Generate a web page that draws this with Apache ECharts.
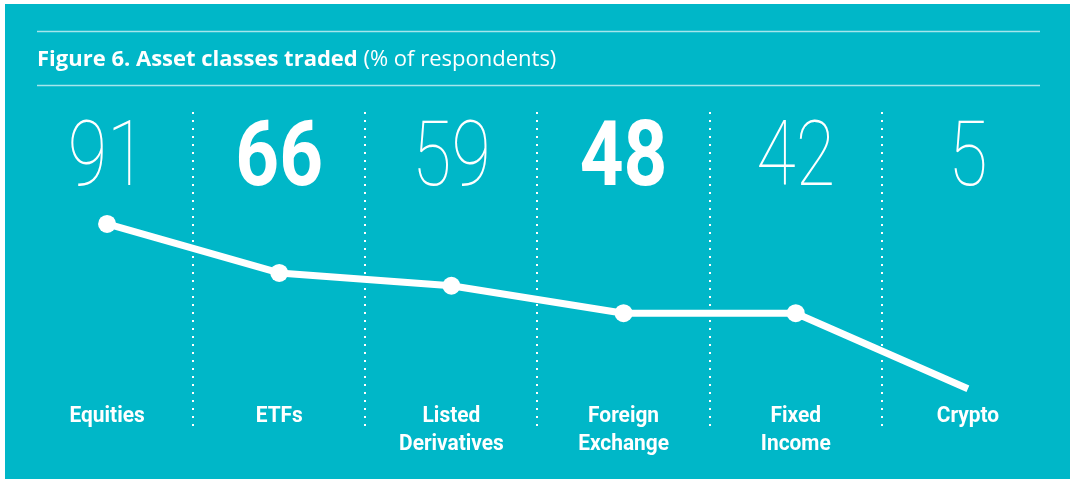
<!DOCTYPE html>
<html>
<head>
<meta charset="utf-8">
<script src="https://cdn.jsdelivr.net/npm/echarts@6/dist/echarts.min.js"></script>
<style>
html,body{margin:0;padding:0;background:#ffffff;}
#wrap{position:absolute;left:5px;top:4px;width:1065px;height:475px;background:#00b7c8;}
#chart{position:absolute;left:0;top:0;width:1070px;height:479px;}
</style>
</head>
<body>
<div id="wrap"></div>
<div id="chart"></div>
<script>
// ---- data ----
const categories = ['Equities', 'ETFs', 'Listed\nDerivatives', 'Foreign\nExchange', 'Fixed\nIncome', 'Crypto'];
const percentValues = [91, 66, 59, 48, 42, 5];
const boldFlags = [false, true, false, true, false, false];
// vertical level of the line at each category
const lineLevels = [91, 66, 59.5, 45.5, 45.5, 7];
const titleBold = 'Figure 6. Asset classes traded';
const titleRegular = ' (% of respondents)';

const chart = echarts.init(document.getElementById('chart'), null, {renderer: 'canvas'});

const lineData = lineLevels.map((v, i) => i === lineLevels.length - 1 ? {value: v, symbol: 'none'} : v);

const option = {
  backgroundColor: 'transparent',
  animation: false,
  grid: {left: 21, right: 16, top: 112, bottom: 47},
  xAxis: {
    type: 'category',
    data: categories,
    boundaryGap: true,
    axisLine: {show: false},
    axisTick: {show: false},
    splitLine: {show: false},
    axisLabel: {show: false}
  },
  yAxis: {
    type: 'value', min: -15, max: 148,
    show: false, splitLine: {show: false}
  },
  graphic: [
    {type: 'line', shape: {x1: 37, y1: 31.5, x2: 1040, y2: 31.5}, style: {stroke: 'rgba(255,255,255,0.65)', lineWidth: 1.5}},
    {type: 'line', shape: {x1: 37, y1: 85.5, x2: 1040, y2: 85.5}, style: {stroke: 'rgba(255,255,255,0.65)', lineWidth: 1.5}},
    {type: 'text', left: 37, top: 49,
     style: {
       rich: {
         b: {fontFamily: 'Open Sans', fontWeight: 'bold', fontSize: 22, fill: '#ffffff'},
         r: {fontFamily: 'Open Sans', fontWeight: 'normal', fontSize: 22, fill: '#ffffff'}
       },
       text: '{b|' + titleBold + '}{r|' + titleRegular + '}'
     }}
  ],
  series: [
    {
      // dotted separators between categories
      type: 'custom',
      data: categories.map((c, i) => [i]),
      renderItem: function (params, api) {
        const i = api.value(0);
        if (i === 0) return null;
        const x = Math.round(api.coord([i, 0])[0] - api.size([1, 0])[0] / 2);
        const cs = params.coordSys;
        return {
          type: 'line',
          shape: {x1: x, y1: cs.y, x2: x, y2: cs.y + cs.height},
          style: {stroke: '#ffffff', lineWidth: 2, lineDash: [2, 6]}
        };
      },
      silent: true,
      z: 1
    },
    {
      type: 'line',
      data: lineData,
      symbol: 'circle',
      symbolSize: 18,
      lineStyle: {color: '#ffffff', width: 7},
      itemStyle: {color: '#ffffff'},
      z: 3
    },
    {
      // big percentage figures
      type: 'custom',
      data: percentValues.map((v, i) => [i, v]),
      renderItem: function (params, api) {
        const i = api.value(0);
        const x = api.coord([i, 0])[0];
        const y = params.coordSys.y + 50;
        const bold = boldFlags[i];
        return {
          type: 'text',
          x: x, y: y,
          scaleX: bold ? 0.85 : 0.8,
          style: {
            text: String(api.value(1)),
            fontFamily: 'Roboto',
            fontWeight: bold ? 'bold' : 100,
            fontSize: 90,
            fill: '#ffffff',
            align: 'center',
            verticalAlign: 'middle'
          }
        };
      },
      z: 4
    },
    {
      // category labels
      type: 'custom',
      data: categories.map((c, i) => [i]),
      renderItem: function (params, api) {
        const i = api.value(0);
        const x = api.coord([i, 0])[0];
        const cs = params.coordSys;
        return {
          type: 'text',
          x: x, y: cs.y + cs.height - 30,
          scaleX: 0.95,
          style: {
            text: categories[i],
            fontFamily: 'Roboto',
            fontWeight: 'bold',
            fontSize: 22,
            lineHeight: 28,
            fill: '#ffffff',
            align: 'center',
            verticalAlign: 'top'
          }
        };
      },
      z: 4
    }
  ]
};
chart.setOption(option);
</script>
</body>
</html>
